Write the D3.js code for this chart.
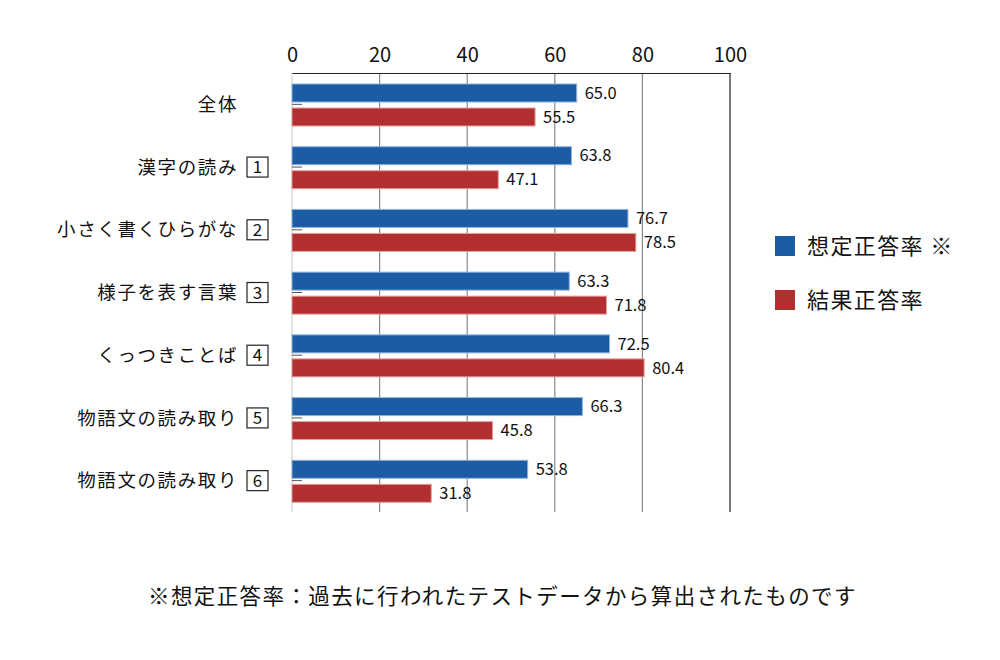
<!DOCTYPE html>
<html><head><meta charset="utf-8">
<script src="https://cdn.jsdelivr.net/npm/d3@7"></script>
<style>body{margin:0;background:#fff}svg{display:block}</style>
</head><body>
<svg id="c" width="1000" height="660"></svg>
<script>
const categories = ["全体","漢字の読み","小さく書くひらがな","様子を表す言葉","くっつきことば","物語文の読み取り","物語文の読み取り"];
const boxNums = ["","1","2","3","4","5","6"];
const expected = [65.0,63.8,76.7,63.3,72.5,66.3,53.8];
const results = [55.5,47.1,78.5,71.8,80.4,45.8,31.8];
const seriesNames = ["想定正答率 ※","結果正答率"];
const tickValues = [0,20,40,60,80,100];
const footnote = "※想定正答率：過去に行われたテストデータから算出されたものです";
const colors = ["#1b5ca5","#b22f2f"];
const strokes = ["#8fb3dc","#e6a0a0"];

const font = "'Noto Sans CJK JP','Noto Sans',sans-serif";
const svg = d3.select("#c").style("font-family", font);
const L=292, R=730, T=73, B=512;
const x = d3.scaleLinear().domain([0,100]).range([L,R]);
const y = d3.scaleBand().domain(d3.range(categories.length)).range([T,B]);
const bw = y.bandwidth();

// gridlines
svg.append("g").selectAll("line").data([20,40,60,80]).join("line")
  .attr("x1",d=>x(d)).attr("x2",d=>x(d)).attr("y1",T).attr("y2",B)
  .attr("stroke","#8a8a8a").attr("stroke-width",1.2);
// left axis line
svg.append("line").attr("x1",L).attr("x2",L).attr("y1",T).attr("y2",B).attr("stroke","#c8c8c8");
// right border
svg.append("line").attr("x1",R).attr("x2",R).attr("y1",T).attr("y2",B).attr("stroke","#222").attr("stroke-width",1.2);

// top axis
const ax = svg.append("g").attr("transform",`translate(0,${T})`)
  .call(d3.axisTop(x).tickValues(tickValues).tickSize(0).tickPadding(11));
ax.select(".domain").attr("stroke","#222").attr("stroke-width",1.2);
ax.selectAll("text").attr("font-size",20).attr("fill","#111").attr("font-family",font);

// bars
const hB = 18, offB = 11, offR = 35;
const g = svg.append("g");
g.selectAll("rect.b").data(expected).join("rect")
  .attr("x",L).attr("y",(d,i)=>y(i)+offB).attr("width",d=>x(d)-L).attr("height",hB)
  .attr("fill",colors[0]).attr("stroke",strokes[0]).attr("stroke-width",1);
g.selectAll("rect.r").data(results).join("rect")
  .attr("x",L).attr("y",(d,i)=>y(i)+offR).attr("width",d=>x(d)-L).attr("height",hB)
  .attr("fill",colors[1]).attr("stroke",strokes[1]).attr("stroke-width",1);

// small inner ticks
g.selectAll("line.t").data(categories).join("line")
  .attr("x1",L).attr("x2",L+10).attr("y1",(d,i)=>y(i)+bw/2).attr("y2",(d,i)=>y(i)+bw/2)
  .attr("stroke","#555").attr("stroke-width",1);

// value labels
g.selectAll("text.vb").data(expected).join("text")
  .attr("x",d=>x(d)+8).attr("y",(d,i)=>y(i)+offB+hB/2).attr("dy","0.35em")
  .attr("font-size",16.5).attr("fill","#111").text(d=>d.toFixed(1));
g.selectAll("text.vr").data(results).join("text")
  .attr("x",d=>x(d)+8).attr("y",(d,i)=>y(i)+offR+hB/2).attr("dy","0.35em")
  .attr("font-size",16.5).attr("fill","#111").text(d=>d.toFixed(1));

// category labels
const cl = svg.append("g");
cl.selectAll("text").data(categories).join("text")
  .attr("x",238).attr("y",(d,i)=>y(i)+bw/2).attr("dy","0.36em").attr("text-anchor","end")
  .attr("font-size",18.5).attr("letter-spacing",1.6).attr("fill","#111").text(d=>d);
const bx = cl.selectAll("g.box").data(boxNums).join("g").filter(d=>d!=="");
bx.append("rect").attr("x",247).attr("y",function(d){return y(boxNums.indexOf(d))+bw/2-10;})
  .attr("width",21).attr("height",20).attr("fill","none").attr("stroke","#222").attr("stroke-width",1.2);
bx.append("text").attr("x",257.5).attr("y",function(d){return y(boxNums.indexOf(d))+bw/2;})
  .attr("dy","0.36em").attr("text-anchor","middle").attr("font-size",17).attr("fill","#111").text(d=>d);

// legend
const lg = svg.append("g");
seriesNames.forEach((s,i)=>{
  const yy = 246 + i*54;
  lg.append("rect").attr("x",775).attr("y",yy-10).attr("width",20).attr("height",20).attr("fill",colors[i]);
  lg.append("text").attr("x",807).attr("y",yy).attr("dy","0.36em").attr("font-size",22).attr("letter-spacing",1.4).attr("fill","#111").text(s);
});

// footnote
svg.append("text").attr("x",148).attr("y",596).attr("dy","0.35em").attr("text-anchor","start")
  .attr("font-size",21.5).attr("letter-spacing",1.4).attr("fill","#111").text(footnote);
</script>
</body></html>
